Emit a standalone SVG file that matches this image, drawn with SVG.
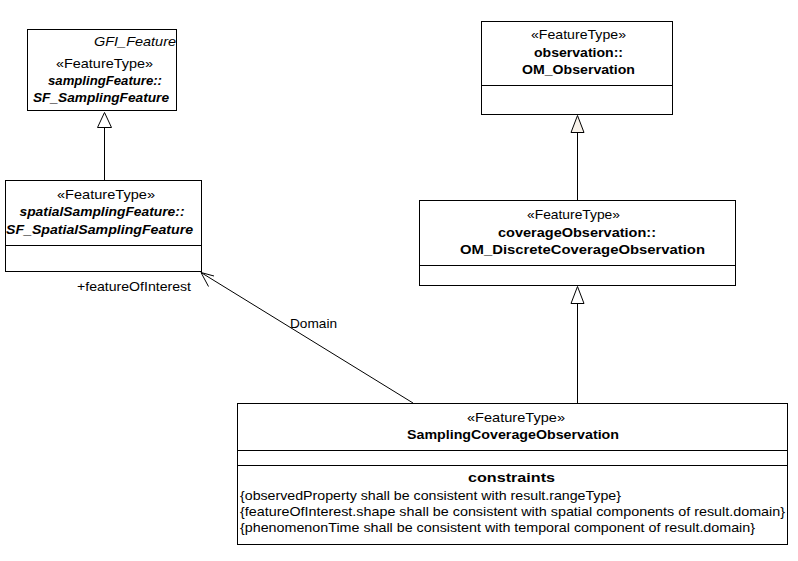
<svg xmlns="http://www.w3.org/2000/svg" width="798" height="561" viewBox="0 0 798 561">
<style>
.box{fill:#fff;stroke:#000;stroke-width:1}
.ln{stroke:#000;stroke-width:1;fill:none}
text{font-family:"Liberation Sans",Arial,sans-serif;font-size:13px;fill:#000}
.b{font-weight:bold}
.i{font-style:italic}
.tri{fill:#fff;stroke:#000;stroke-width:1}
</style>
<rect width="798" height="561" fill="#fff"/>
<g id="connectors">
<line class="ln" x1="104.5" y1="127.5" x2="104.5" y2="180.5"/>
<polygon class="tri" points="104.5,112.5 97.5,127.5 111.5,127.5"/>
<line class="ln" x1="577.5" y1="132" x2="577.5" y2="200.5"/>
<polygon class="tri" points="577.5,115.5 571,132.5 584,132.5" style="fill:#f8f2ea"/>
<line class="ln" x1="577.5" y1="303" x2="577.5" y2="403.5"/>
<polygon class="tri" points="577.5,286.5 571,303.5 584,303.5"/>
<line class="ln" x1="413" y1="403" x2="201" y2="272.5"/>
<polyline class="ln" points="214,276 201,272.5 208.5,286.5"/>
<text x="290" y="328" textLength="47" lengthAdjust="spacingAndGlyphs">Domain</text>
<text x="77" y="291" textLength="114" lengthAdjust="spacingAndGlyphs">+featureOfInterest</text>
</g>
<g id="GFI_Feature">
<rect class="box" x="27.5" y="29.5" width="149" height="81"/>
<text class="i" x="94" y="46" textLength="82" lengthAdjust="spacingAndGlyphs">GFI_Feature</text>
<text x="56" y="68" textLength="97" lengthAdjust="spacingAndGlyphs">«FeatureType»</text>
<text class="b i" x="48" y="85" textLength="114" lengthAdjust="spacingAndGlyphs">samplingFeature::</text>
<text class="b i" x="33" y="102" textLength="136" lengthAdjust="spacingAndGlyphs">SF_SamplingFeature</text>
</g>
<g id="SF_SpatialSamplingFeature">
<rect class="box" x="5.5" y="180.5" width="196" height="91"/>
<line class="ln" x1="5.5" y1="245.5" x2="201.5" y2="245.5"/>
<text x="57" y="199" textLength="98" lengthAdjust="spacingAndGlyphs">«FeatureType»</text>
<text class="b i" x="19.5" y="216" textLength="165" lengthAdjust="spacingAndGlyphs">spatialSamplingFeature::</text>
<text class="b i" x="6" y="234" textLength="187" lengthAdjust="spacingAndGlyphs">SF_SpatialSamplingFeature</text>
</g>
<g id="OM_Observation">
<rect class="box" x="481.5" y="21.5" width="191" height="93"/>
<line class="ln" x1="481.5" y1="85.5" x2="672.5" y2="85.5"/>
<text x="531" y="39" textLength="95" lengthAdjust="spacingAndGlyphs">«FeatureType»</text>
<text class="b" x="534" y="57" textLength="89" lengthAdjust="spacingAndGlyphs">observation::</text>
<text class="b" x="522" y="74" textLength="113" lengthAdjust="spacingAndGlyphs">OM_Observation</text>
</g>
<g id="OM_DiscreteCoverageObservation">
<rect class="box" x="419.5" y="200.5" width="316" height="85"/>
<line class="ln" x1="419.5" y1="265.5" x2="735.5" y2="265.5"/>
<text x="527" y="219" textLength="93" lengthAdjust="spacingAndGlyphs">«FeatureType»</text>
<text class="b" x="498" y="237" textLength="158" lengthAdjust="spacingAndGlyphs">coverageObservation::</text>
<text class="b" x="460" y="254" textLength="245" lengthAdjust="spacingAndGlyphs">OM_DiscreteCoverageObservation</text>
</g>
<g id="SamplingCoverageObservation">
<rect class="box" x="237.5" y="403.5" width="550" height="141"/>
<line class="ln" x1="237.5" y1="450.5" x2="787.5" y2="450.5"/>
<line class="ln" x1="237.5" y1="465.5" x2="787.5" y2="465.5"/>
<text x="467" y="422" textLength="98" lengthAdjust="spacingAndGlyphs">«FeatureType»</text>
<text class="b" x="407" y="439" textLength="212" lengthAdjust="spacingAndGlyphs">SamplingCoverageObservation</text>
<text class="b" x="468" y="482" textLength="87" lengthAdjust="spacingAndGlyphs">constraints</text>
<text x="240" y="500" textLength="381" lengthAdjust="spacingAndGlyphs">{observedProperty shall be consistent with result.rangeType}</text>
<text x="240" y="516" textLength="545" lengthAdjust="spacingAndGlyphs">{featureOfInterest.shape shall be consistent with spatial components of result.domain}</text>
<text x="240" y="532" textLength="515" lengthAdjust="spacingAndGlyphs">{phenomenonTime shall be consistent with temporal component of result.domain}</text>
</g>
</svg>
